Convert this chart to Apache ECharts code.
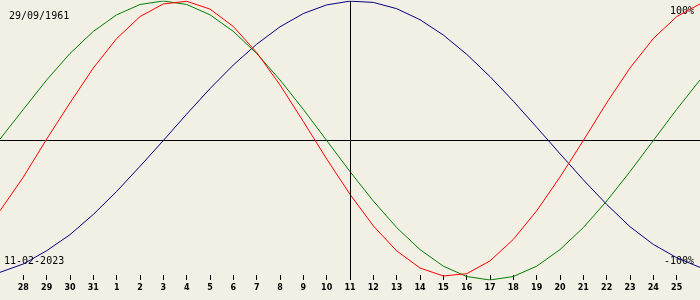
<!DOCTYPE html>
<html>
<head>
<meta charset="utf-8">
<script src="https://cdn.jsdelivr.net/npm/echarts@6/dist/echarts.min.js"></script>
<style>
html,body{margin:0;padding:0;background:#f2efe4;}
#chart{width:700px;height:300px;}
</style>
</head>
<body>
<div id="chart"></div>
<script>
// Day labels (27 Jan 2023 .. 26 Feb 2023)
const days = ['27','28','29','30','31','1','2','3','4','5','6','7','8','9','10','11',
  '12','13','14','15','16','17','18','19','20','21','22','23','24','25','26'];
// Physical (red), percent
const physical = [-50.4,-26.2,1,27.0,52.0,73.1,88.8,97.9,99.8,94.2,81.7,63.1,39.8,13.6,
  -13.2,-38.6,-61.2,-79.1,-91.4,-97.1,-95.5,-86.3,-70.9,-50.4,-26.2,0,27.0,52.0,73.1,88.8,97.9];
// Emotional (green), percent
const emotional = [1,22.3,43.4,62.4,78.2,90.1,97.5,100,97.5,90.1,78.2,62.4,43.4,22.3,0,
  -22.3,-43.4,-62.4,-78.2,-90.1,-97.5,-100,-97.5,-90.1,-78.2,-62.4,-43.4,-22.3,0,22.3,43.4];
// Intellectual (blue), percent
const intellectual = [-94.5,-88.5,-79.0,-67.5,-53.0,-36.5,-18.5,0,18.9,37.2,54.1,69.0,81.5,91.0,
  97.2,99.9,99.0,94.5,86.6,75.6,61.8,45.8,28.2,9.5,-9.5,-28.2,-45.8,-61.8,-74.5,-84.0,-91.0];
const birthDate = '29/09/1961';
const refDate = '11-02-2023';
const topLabel = '100%';
const bottomLabel = '-100%';
const centerIndex = 15;

const chart = echarts.init(document.getElementById('chart'), null, {renderer:'canvas'});
const lineStyle = (c) => ({color:c, width:1});
chart.setOption({
  animation:false,
  backgroundColor:'#f2efe4',
  grid:{left:0,right:0,top:1,bottom:20, containLabel:false, outerBoundsMode:'none'},
  xAxis:{
    type:'category', data:days, boundaryGap:false,
    axisLine:{show:false, onZero:false},
    axisTick:{show:true, inside:true, length:5, interval:(i)=> i>0 && i<days.length-1,
      lineStyle:{color:'#000', width:1}},
    axisLabel:{interval:0, margin:4, fontSize:8, fontWeight:'bold', color:'#000',
      fontFamily:'DejaVu Sans',
      formatter:(v,i)=> (i>0 && i<days.length-1) ? v : ''},
    splitLine:{show:false}
  },
  yAxis:{type:'value', min:-100, max:100, interval:100,
    axisLine:{show:false}, axisTick:{show:false}, axisLabel:{show:false},
    splitLine:{show:true, lineStyle:{color:['rgba(0,0,0,0)','#000','rgba(0,0,0,0)'], width:1}}},
  series:[
    {type:'line', data:intellectual, showSymbol:false, symbol:'none', lineStyle:lineStyle('#000080'), z:2,
     markLine:{silent:true, symbol:['none','none'], label:{show:false},
       lineStyle:{color:'#000', width:1, type:'solid'},
       data:[{xAxis:centerIndex}]}},
    {type:'line', data:emotional, showSymbol:false, symbol:'none', lineStyle:lineStyle('#008000'), z:3},
    {type:'line', data:physical, showSymbol:false, symbol:'none', lineStyle:lineStyle('#ff0000'), z:4}
  ],
  graphic:[
    {type:'text', left:9, top:11, style:{text:birthDate, font:'10px "DejaVu Sans Mono"', fill:'#000'}},
    {type:'text', left:4, top:256, style:{text:refDate, font:'10px "DejaVu Sans Mono"', fill:'#000'}},
    {type:'text', right:6, top:6, style:{text:topLabel, font:'10px "DejaVu Sans Mono"', fill:'#000'}},
    {type:'text', right:6, top:256, style:{text:bottomLabel, font:'10px "DejaVu Sans Mono"', fill:'#000'}}
  ]
});
</script>
</body>
</html>
